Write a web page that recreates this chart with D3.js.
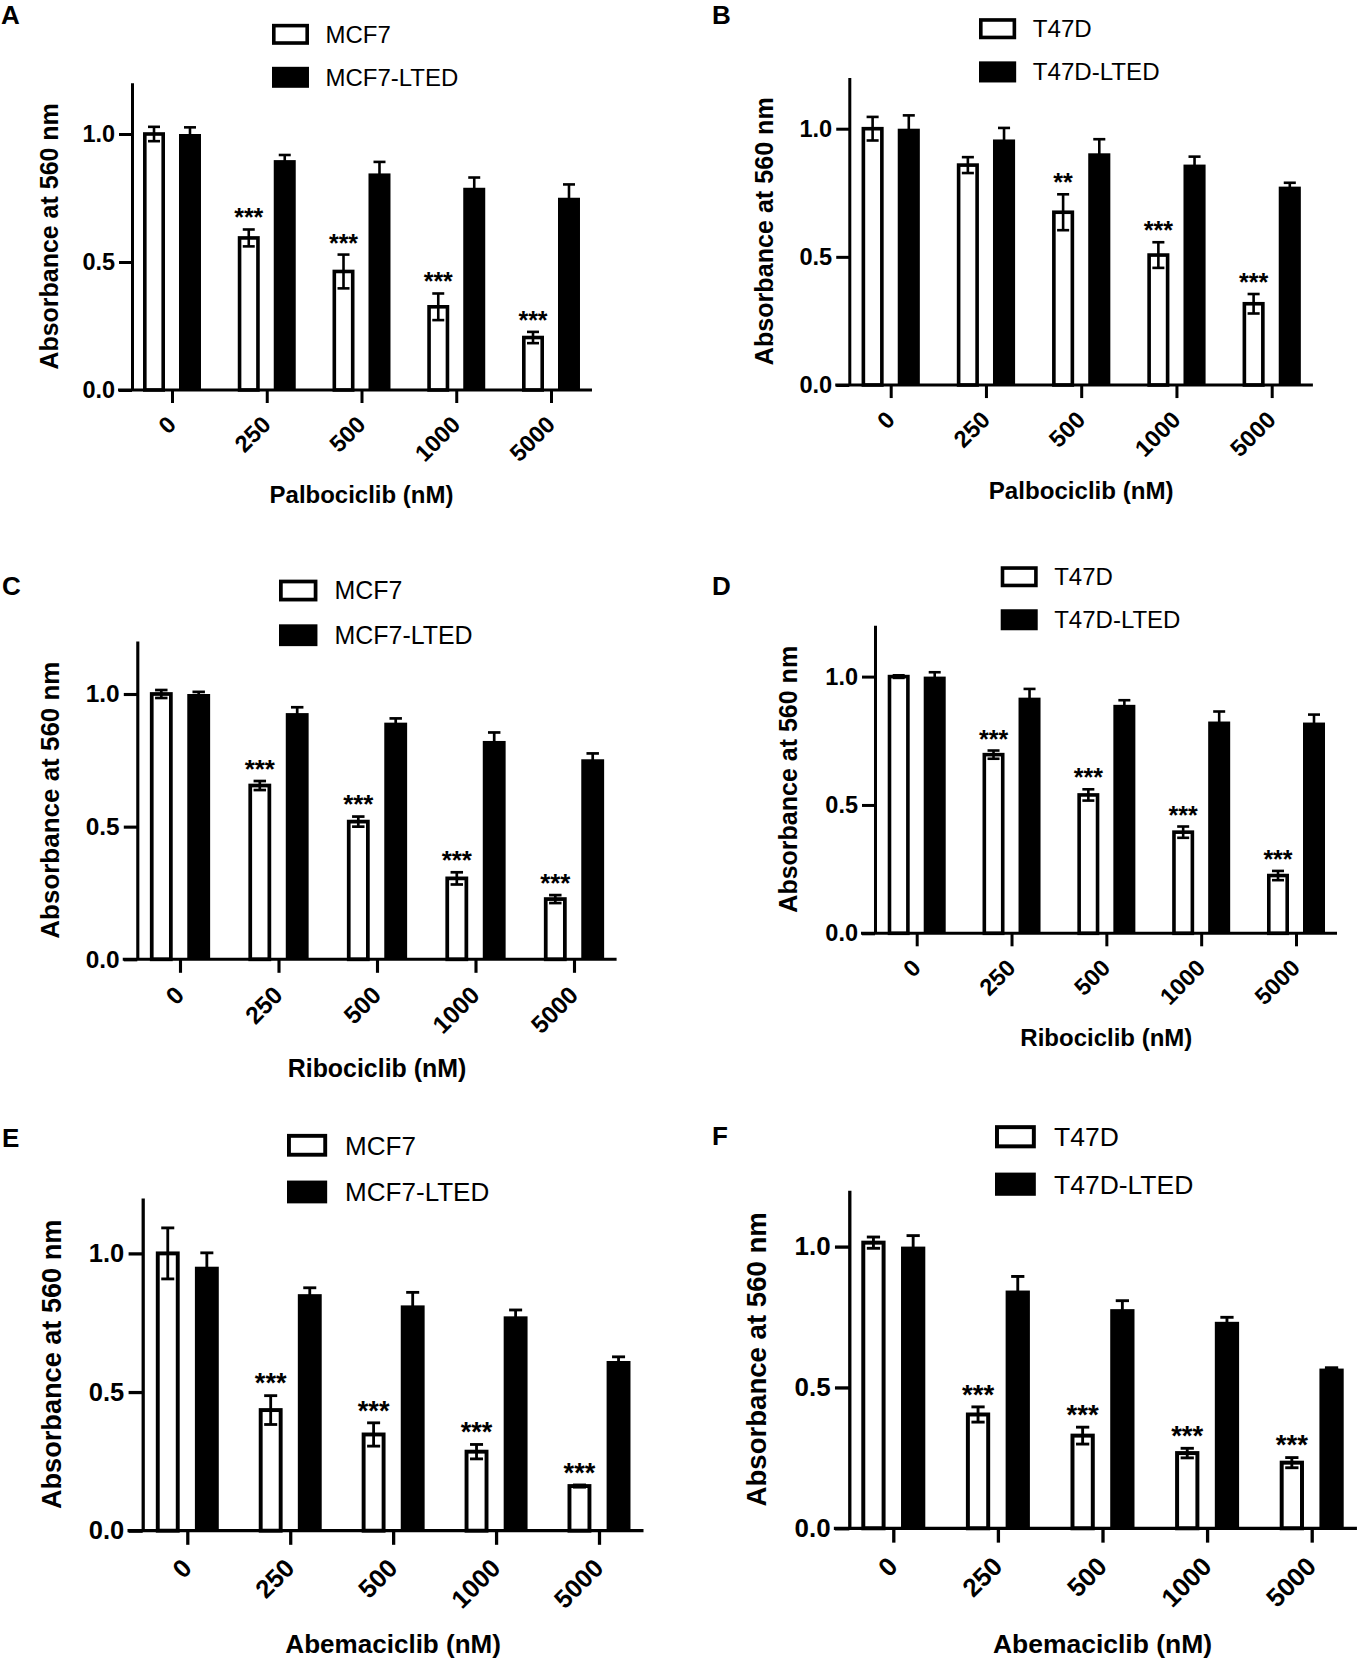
<!DOCTYPE html>
<html>
<head>
<meta charset="utf-8">
<script src="https://cdn.jsdelivr.net/npm/d3@7"></script>
<style>
  html, body { margin: 0; padding: 0; background: #ffffff; }
  svg { display: block; }
</style>
</head>
<body>
<svg id="chart" width="1368" height="1665"></svg>
<script>
// ---------------- DATA ----------------
const categories = ["0", "250", "500", "1000", "5000"];
const yTickValues = [0, 0.5, 1.0];
const yAxisTitle = "Absorbance at 560 nm";

const mcfNames = ["MCF7", "MCF7-LTED"];
const t47Names = ["T47D", "T47D-LTED"];

// Panel A – Palbociclib, MCF7
const aParent = [1.00, 0.594, 0.463, 0.325, 0.205];
const aParentErr = [0.028, 0.033, 0.066, 0.052, 0.022];
const aLted = [1.00, 0.898, 0.846, 0.790, 0.751];
const aLtedErr = [0.026, 0.020, 0.045, 0.040, 0.052];
const aStars = ["", "***", "***", "***", "***"];

// Panel B – Palbociclib, T47D
const bParent = [1.00, 0.858, 0.674, 0.507, 0.317];
const bParentErr = [0.046, 0.031, 0.070, 0.050, 0.038];
const bLted = [1.00, 0.958, 0.904, 0.860, 0.774];
const bLtedErr = [0.052, 0.045, 0.055, 0.031, 0.015];
const bStars = ["", "", "**", "***", "***"];

// Panel C – Ribociclib, MCF7
const cParent = [1.00, 0.655, 0.519, 0.305, 0.227];
const cParentErr = [0.015, 0.017, 0.019, 0.023, 0.015];
const cLted = [1.00, 0.928, 0.892, 0.823, 0.754];
const cLtedErr = [0.008, 0.022, 0.016, 0.032, 0.022];
const cStars = ["", "***", "***", "***", "***"];

// Panel D – Ribociclib, T47D
const dParent = [1.00, 0.696, 0.539, 0.394, 0.225];
const dParentErr = [0.005, 0.016, 0.022, 0.022, 0.018];
const dLted = [1.00, 0.918, 0.890, 0.825, 0.821];
const dLtedErr = [0.017, 0.034, 0.018, 0.039, 0.031];
const dStars = ["", "***", "***", "***", "***"];

// Panel E – Abemaciclib, MCF7
const eParent = [1.00, 0.435, 0.347, 0.285, 0.161];
const eParentErr = [0.092, 0.052, 0.042, 0.026, 0.004];
const eLted = [0.952, 0.853, 0.8125, 0.773, 0.612];
const eLtedErr = [0.050, 0.023, 0.047, 0.023, 0.015];
const eStars = ["", "***", "***", "***", "***"];

// Panel F – Abemaciclib, T47D
const fParent = [1.014, 0.404, 0.329, 0.267, 0.233];
const fParentErr = [0.020, 0.027, 0.030, 0.017, 0.018];
const fLted = [1.00, 0.844, 0.778, 0.733, 0.567];
const fLtedErr = [0.039, 0.050, 0.030, 0.016, 0.003];
const fStars = ["", "***", "***", "***", "***"];

// ---------------- LAYOUT ----------------
const FONT = "'Liberation Sans', Arial, Helvetica, sans-serif";
const panels = [
  { letter: "A", title: "Palbociclib (nM)", names: mcfNames, parent: aParent, parentErr: aParentErr, lted: aLted, ltedErr: aLtedErr, stars: aStars,
    L: { x0: 132,   y0: 390,    unit: 256,   t0: 172,   t4: 551,    lx: 272,   ylab: 48.8,  lt: [1, 24] } },
  { letter: "B", title: "Palbociclib (nM)", names: t47Names, parent: bParent, parentErr: bParentErr, lted: bLted, ltedErr: bLtedErr, stars: bStars,
    L: { x0: 849.3, y0: 385,    unit: 256.3, t0: 890.7, t4: 1271.7, lx: 979,   ylab: 764,   lt: [712, 24] } },
  { letter: "C", title: "Ribociclib (nM)", names: mcfNames, parent: cParent, parentErr: cParentErr, lted: cLted, ltedErr: cLtedErr, stars: cStars,
    L: { x0: 137.3, y0: 959.3,  unit: 265.3, t0: 180,   t4: 574,    lx: 279,   ylab: 49.7,  lt: [2, 595] } },
  { letter: "D", title: "Ribociclib (nM)", names: t47Names, parent: dParent, parentErr: dParentErr, lted: dLted, ltedErr: dLtedErr, stars: dStars,
    L: { x0: 875,   y0: 933.3,  unit: 256.7, t0: 916.7, t4: 1296,   lx: 1000.7, ylab: 787.5, lt: [712, 595] } },
  { letter: "E", title: "Abemaciclib (nM)", names: mcfNames, parent: eParent, parentErr: eParentErr, lted: eLted, ltedErr: eLtedErr, stars: eStars,
    L: { x0: 142.7, y0: 1530.7, unit: 277.3, t0: 187.3, t4: 599,    lx: 287,   ylab: 50.8,  lt: [2, 1147] } },
  { letter: "F", title: "Abemaciclib (nM)", names: t47Names, parent: fParent, parentErr: fParentErr, lted: fLted, ltedErr: fLtedErr, stars: fStars,
    L: { x0: 849.3, y0: 1528.3, unit: 281.7, t0: 893.3, t4: 1311.7, lx: 995,   ylab: 755.7, lt: [712, 1145] } }
];

const svg = d3.select("#chart");

panels.forEach(p => {
  const L = p.L;
  const s = (L.t4 - L.t0) / 4 / 94.8;
  const g = svg.append("g");

  const x = d3.scalePoint().domain(categories).range([L.t0, L.t4]);
  const y = d3.scaleLinear().domain([0, 1.2]).range([L.y0, L.y0 - 1.2 * L.unit]);
  const off = 18 * s, bw = 22 * s, sw = 3.6 * s;

  const rows = categories.map((c, i) => ({
    c, p: p.parent[i], pe: p.parentErr[i], l: p.lted[i], le: p.ltedErr[i], star: p.stars[i]
  }));

  // Black (LTED) bars
  g.selectAll("rect.lted").data(rows).join("rect").attr("class", "lted")
    .attr("x", d => x(d.c) + off - bw / 2)
    .attr("y", d => y(d.l))
    .attr("width", bw)
    .attr("height", d => y(0) - y(d.l))
    .attr("fill", "#000");

  // White (parental) bars
  g.selectAll("rect.par").data(rows).join("rect").attr("class", "par")
    .attr("x", d => x(d.c) - off - bw / 2 + sw / 2)
    .attr("y", d => y(d.p))
    .attr("width", bw - sw)
    .attr("height", d => y(0) - y(d.p))
    .attr("fill", "#fff")
    .attr("stroke", "#000")
    .attr("stroke-width", sw);

  // Error bars
  const cap = 6 * s, ew = 2.6 * s;
  const errData = [];
  rows.forEach(d => {
    errData.push({ cx: x(d.c) - off, v: d.p, e: d.pe });
    errData.push({ cx: x(d.c) + off, v: d.l, e: d.le });
  });
  const eg = g.selectAll("g.err").data(errData).join("g").attr("class", "err")
    .attr("stroke", "#000").attr("stroke-width", ew);
  eg.append("line").attr("x1", d => d.cx).attr("x2", d => d.cx)
    .attr("y1", d => y(d.v - d.e)).attr("y2", d => y(d.v + d.e));
  eg.append("line").attr("x1", d => d.cx - cap).attr("x2", d => d.cx + cap)
    .attr("y1", d => y(d.v + d.e)).attr("y2", d => y(d.v + d.e));
  eg.append("line").attr("x1", d => d.cx - cap).attr("x2", d => d.cx + cap)
    .attr("y1", d => y(d.v - d.e)).attr("y2", d => y(d.v - d.e));

  // Significance stars
  g.selectAll("text.star").data(rows.filter(d => d.star)).join("text").attr("class", "star")
    .attr("x", d => x(d.c) - off)
    .attr("y", d => y(d.p + d.pe) - 3 * s)
    .attr("text-anchor", "middle")
    .attr("font-family", FONT).attr("font-weight", "bold").attr("font-size", 25 * s)
    .text(d => d.star);

  // Y axis
  const ya = g.append("g").attr("transform", `translate(${L.x0},0)`)
    .call(d3.axisLeft(y).tickValues(yTickValues).tickFormat(d3.format(".1f"))
      .tickSize(13 * s).tickSizeOuter(0).tickPadding(4 * s));
  ya.attr("font-family", FONT).attr("font-size", 23.5 * s).attr("font-weight", "bold");
  ya.select(".domain").attr("stroke", "#000").attr("stroke-width", 3 * s);
  ya.selectAll(".tick line").attr("stroke", "#000").attr("stroke-width", 3 * s);
  ya.selectAll(".tick text").attr("fill", "#000");

  // X axis
  const xa = g.append("g").attr("transform", `translate(0,${L.y0})`)
    .call(d3.axisBottom(x).tickSize(13 * s).tickSizeOuter(0));
  xa.attr("font-family", FONT).attr("font-size", 23.5 * s).attr("font-weight", "bold");
  xa.select(".domain").attr("d", `M${L.x0 - 14 * s},0H${L.t4 + 41 * s}`)
    .attr("stroke", "#000").attr("stroke-width", 3 * s);
  xa.selectAll(".tick line").attr("stroke", "#000").attr("stroke-width", 3 * s);
  xa.selectAll(".tick text").attr("fill", "#000")
    .attr("y", 0).attr("dy", 0)
    .attr("text-anchor", "end")
    .attr("transform", `translate(${5 * s},${36 * s}) rotate(-45)`);

  // X axis title
  g.append("text")
    .attr("x", (L.t0 + L.t4) / 2).attr("y", L.y0 + 113 * s)
    .attr("text-anchor", "middle")
    .attr("font-family", FONT).attr("font-weight", "bold").attr("font-size", 24 * s)
    .text(p.title);

  // Y axis title
  const yMid = (y(0) + y(1.2)) / 2;
  g.append("text")
    .attr("transform", `translate(${L.ylab + 9 * s},${yMid}) rotate(-90)`)
    .attr("text-anchor", "middle")
    .attr("font-family", FONT).attr("font-weight", "bold").attr("font-size", 25 * s)
    .text(yAxisTitle);

  // Legend
  const ytop = y(1.2);
  const lg = g.append("g");
  lg.append("rect")
    .attr("x", L.lx + sw / 2).attr("y", ytop - 59 * s + sw / 2)
    .attr("width", 37 * s - sw).attr("height", 21 * s - sw)
    .attr("fill", "#fff").attr("stroke", "#000").attr("stroke-width", sw);
  lg.append("rect")
    .attr("x", L.lx).attr("y", ytop - 16 * s)
    .attr("width", 37 * s).attr("height", 21 * s)
    .attr("fill", "#000");
  lg.append("text").attr("x", L.lx + 53.5 * s).attr("y", ytop - 40 * s)
    .attr("font-family", FONT).attr("font-size", 24 * s).text(p.names[0]);
  lg.append("text").attr("x", L.lx + 53.5 * s).attr("y", ytop + 3 * s)
    .attr("font-family", FONT).attr("font-size", 24 * s).text(p.names[1]);

  // Panel letter
  svg.append("text").attr("x", L.lt[0]).attr("y", L.lt[1])
    .attr("font-family", FONT).attr("font-weight", "bold").attr("font-size", 26)
    .text(p.letter);
});
</script>
</body>
</html>
